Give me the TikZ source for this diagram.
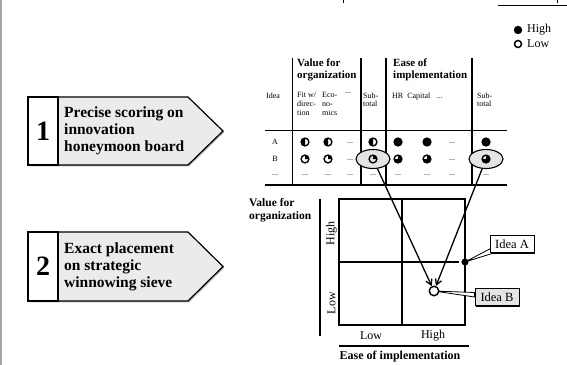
\documentclass[tikz,border=0pt]{standalone}
\usepackage{fontspec}
\setmainfont{Liberation Serif}
\usetikzlibrary{arrows.meta,shapes.geometric,shadows,calc}
\definecolor{boxgray}{HTML}{EBEBEB}
\definecolor{ellgray}{HTML}{E4E4E4}
\newcommand{\hball}[3]{%
  \draw[hb] (#1,#2) circle[radius=3.9];
  \fill (#1,#2) -- ++(0,3.9) arc[start angle=90, delta angle=#3, radius=3.9] -- cycle;}
\begin{document}
\begin{tikzpicture}[x=1pt,y=1pt,
  line/.style={line width=1.2pt},
  hb/.style={line width=1.4pt},
  tsmall/.style={font=\fontsize{8}{8.6}\selectfont, inner sep=0pt, align=left, anchor=north west},
  tcell/.style={font=\fontsize{8}{8.6}\selectfont, inner sep=0pt},
  thead/.style={font=\fontsize{11}{11.5}\selectfont\bfseries, inner sep=0pt, align=left, anchor=north west},
  tlab/.style={font=\fontsize{12}{13}\selectfont, inner sep=0pt},
  tbig/.style={font=\fontsize{15.5}{17}\selectfont\bfseries, inner sep=0pt, align=left, anchor=west},
  tnum/.style={font=\fontsize{28}{28}\selectfont\bfseries, inner sep=0pt},
  arr/.style={line width=1.3pt, -{Straight Barb[length=5.5pt,width=6.5pt]}},
  idea/.style={draw, line width=1pt, inner sep=0pt, minimum width=44pt, minimum height=17.5pt,
     font=\fontsize{12.5}{13}\selectfont, drop shadow={shadow xshift=1.3pt, shadow yshift=-1.3pt, fill=black, opacity=1}},
  hl/.style={ellipse, draw, line width=1.1pt, fill=ellgray, minimum width=34pt, minimum height=19pt, inner sep=0pt}
]
\useasboundingbox (0,0) rectangle (567,-364);
% left gray rule
\fill[gray!70] (0,1) rectangle (2.3,-365);
% cut-off descenders at top
\draw[line width=1pt] (343,0) -- (343,-2.5);
\draw[line width=1pt] (557,0) -- (557,-2.5);
% legend
\draw[line width=1pt] (498,-5) -- (567,-5);
\fill (518,-30) circle[radius=4.2];
\draw[line width=1.5pt] (518,-44) circle[radius=3.5];
\node[tlab, anchor=west] (lhigh) at (527,-30) {High};
\node[tlab, anchor=west] (llow) at (527,-44) {Low};

% step boxes
\fill[gray!55] (59.3,-98.3) -- (189.3,-98.3) -- (224.3,-132.3) -- (189.3,-166.3) -- (29.3,-166.3) -- (29.3,-98.3) -- cycle;
\draw[line, fill=boxgray] (58,-97) -- (188,-97) -- (223,-131) -- (188,-165) -- (58,-165) -- cycle;
\draw[line, fill=white] (28,-97) rectangle (58,-165);
\node[tnum] (n1) at (43,-131) {1};
\node[tbig] (s1) at (64,-131) {Precise scoring on\\innovation\\honeymoon board};

\fill[gray!55] (59.3,-233.3) -- (189.3,-233.3) -- (224.3,-267.8) -- (189.3,-302.3) -- (29.3,-302.3) -- (29.3,-233.3) -- cycle;
\draw[line, fill=boxgray] (58,-232) -- (188,-232) -- (223,-266.5) -- (188,-301) -- (58,-301) -- cycle;
\draw[line, fill=white] (28,-232) rectangle (58,-301);
\node[tnum] (n2) at (43,-266.5) {2};
\node[tbig] (s2) at (64,-266.5) {Exact placement\\on strategic\\winnowing sieve};

% table
\foreach \x in {292.3,361,386,472} \draw[line] (\x,-58) -- (\x,-185);
\draw[line] (265,-130.5) -- (507,-130.5);
\draw[line] (265,-185) -- (507,-185);
\node[thead] (hv) at (297,-59) {Value for\\organization};
\node[thead] (he) at (393,-59) {Ease of\\implementation};
\node[tsmall] (c0) at (266,-92.5) {Idea};
\node[tsmall] (c1) at (297,-92.5) {Fit w/\\direc-\\tion};
\node[tsmall] (c2) at (322,-92.5) {Eco-\\no-\\mics};
\node[tsmall] (c3) at (345,-92.5) {...};
\node[tsmall] (c4) at (363,-92.5) {Sub-\\total};
\node[tsmall] (c5) at (392,-92.5) {HR\ \ Capital\ \ \ ...};
\node[tsmall] (c8) at (477,-92.5) {Sub-\\total};
\node[tcell] (ra) at (275,-142) {A};
\node[tcell] (rb) at (275,-159) {B};
\foreach \x in {275,305,328,350,373,398,427,452,486} \node[tcell] at (\x,-175) {...};
\node[tcell] at (350,-143) {...};
\node[tcell] at (452,-143) {...};
\node[tcell] at (350,-160) {...};
\node[tcell] at (452,-160) {...};
% highlight ellipses
\node[hl] (e1) at (373,-159) {};
\node[hl] (e2) at (486,-159) {};
% harvey balls row A
\hball{305}{-142}{180}
\hball{328}{-142}{180}
\hball{373}{-142}{180}
\hball{398}{-142}{360}
\hball{427}{-142}{360}
\hball{486}{-142}{360}
% row B
\hball{305}{-159}{-90}
\hball{328}{-159}{-90}
\hball{373}{-159}{-90}
\hball{398}{-159}{-270}
\hball{427}{-159}{-270}
\hball{486}{-159}{-270}

% grid
\draw[line width=1.4pt] (339,-199) rectangle (465,-325);
\draw[line width=1.4pt] (402,-199) -- (402,-325);
\draw[line width=1.4pt] (339,-262) -- (459,-262);
\draw[line] (320,-199) -- (320,-336);
\draw[line] (339,-346) -- (469,-346);
\node[tlab, rotate=90] (yh) at (331.5,-233) {High};
\node[tlab, rotate=90] (yl) at (331.5,-303) {Low};
\node[tlab] (xl) at (371,-336) {Low};
\node[tlab] (xh) at (433,-336) {High};
\node[tlab, font=\fontsize{12}{13}\selectfont\bfseries] (xt) at (400,-357) {Ease of implementation};
\node[thead, font=\fontsize{11.5}{13}\selectfont\bfseries] (yt) at (249,-198) {Value for\\organization};

% ideas
\node[circle, fill=black, minimum size=6.8pt, inner sep=0pt] (da) at (465,-262) {};
\node[idea, fill=white] (na) at (512,-243.8) {Idea A};
\node[idea, fill=ellgray] (nb) at (497,-297) {Idea B};
\filldraw[fill=white, line width=0.8pt] (da.center) -- ($(na.south west)+(0,4)$) -- ($(na.south west)+(4,0)$) -- cycle;
\filldraw[fill=white, line width=0.8pt] (434,-291) -- ($(nb.west)+(0,4.5)$) -- ($(nb.west)+(0,0)$) -- cycle;
\node[circle, draw, line width=1.4pt, fill=white, minimum size=9.5pt, inner sep=0pt] (ib) at (434,-291) {};
\fill (da) circle[radius=3.4];
\node[idea, fill=white] at (na) {Idea A};
\node[idea, fill=ellgray] at (nb) {Idea B};

% arrows
\draw[arr] (e1) -- (ib);
\draw[arr] (e2) -- (ib);
\end{tikzpicture}
\end{document}
